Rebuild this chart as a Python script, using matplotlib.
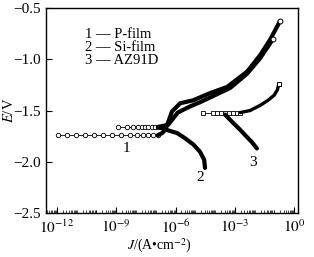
import numpy as np
import matplotlib
matplotlib.use("Agg")
import matplotlib.pyplot as plt
from matplotlib.ticker import LogLocator, NullFormatter

plt.rcParams['font.family'] = ['Liberation Serif', 'DejaVu Serif']
plt.rcParams['mathtext.fontset'] = 'stix'

# ---- data (J in A/cm^2, E in V) ----
legend_labels = ["P-film", "Si-film", "AZ91D"]

# 1: P-film
p_sparse_J = [1.1e-12, 3.2e-12, 9.1e-12, 2.6e-11, 7.4e-11, 2.1e-10, 6.0e-10, 1.7e-9,
              5.0e-9, 1.1e-8, 2.2e-8, 4.1e-8, 7.2e-8, 1.3e-7]
p_sparse_E = [-1.74] * 14
p_anod_J = [1.3e-7, 2.1e-7, 3.0e-7, 4.5e-7, 6.6e-7, 1.7e-6, 7.8e-6, 5.6e-5, 4.1e-4,
            4.2e-3, 1.9e-2, 6.0e-2, 0.19]
p_anod_E = [-1.74, -1.72, -1.69, -1.60, -1.51, -1.43, -1.40, -1.33, -1.27,
            -1.12, -0.96, -0.81, -0.63]

# 2: Si-film
si_sparse_J = [1.2e-9, 3.5e-9, 7.1e-9, 1.3e-8, 2.0e-8, 2.9e-8, 4.1e-8, 6.5e-8, 9.1e-8, 1.3e-7]
si_sparse_E = [-1.66] * 10
si_cath_J = [1.3e-7, 3.7e-7, 1.2e-6, 3.0e-6, 7.8e-6, 1.7e-5, 2.8e-5, 3.1e-5]
si_cath_E = [-1.66, -1.69, -1.72, -1.77, -1.83, -1.90, -1.98, -2.06]
si_anod_J = [1.3e-7, 4.2e-7, 1.3e-6, 5.4e-6, 1.7e-5, 1.0e-4, 5.8e-4, 4.2e-3, 1.9e-2, 8.7e-2]
si_anod_E = [-1.66, -1.64, -1.52, -1.46, -1.42, -1.35, -1.28, -1.14, -0.99, -0.80]

# 3: AZ91D
az_sparse_J = [2.5e-5, 7.9e-5, 1.3e-4, 2.0e-4, 3.2e-4, 5.1e-4, 8.1e-4, 1.3e-3, 1.9e-3]
az_sparse_E = [-1.524] * 9
az_anod_J = [1.9e-3, 5.9e-3, 1.9e-2, 4.8e-2, 9.8e-2, 0.14, 0.17]
az_anod_E = [-1.52, -1.50, -1.45, -1.40, -1.35, -1.30, -1.24]
az_cath_J = [3.2e-4, 7.2e-4, 1.9e-3, 3.7e-3, 7.4e-3, 1.3e-2]
az_cath_E = [-1.54, -1.61, -1.69, -1.75, -1.81, -1.87]

xtick_major = [1e-12, 1e-9, 1e-6, 1e-3, 1e0]
xtick_labels = [r"$10^{-12}$", r"$10^{-9}$", r"$10^{-6}$", r"$10^{-3}$", r"$10^{0}$"]
ytick_vals = [-0.5, -1.0, -1.5, -2.0, -2.5]

# ---- figure ----
fig = plt.figure(figsize=(3.14, 2.57), dpi=100)
ax = fig.add_axes([0.1465, 0.171, 0.803, 0.798])
ax.set_xscale('log')
ax.set_xlim(10**-12.55, 10**0.2)
ax.set_ylim(-2.5, -0.5)

thin = dict(color='black', lw=0.6, markersize=3.2, markerfacecolor='white',
            markeredgecolor='black', markeredgewidth=0.6)
thick = dict(color='black', lw=3.0, solid_capstyle='round')

ax.plot(p_sparse_J, p_sparse_E, marker='o', **thin)
ax.plot(si_sparse_J, si_sparse_E, marker='o', **thin)
ax.plot(az_sparse_J, az_sparse_E, marker='s', **thin)

ax.plot(p_anod_J, p_anod_E, **thick)
ax.plot(si_cath_J, si_cath_E, **thick)
ax.plot(si_anod_J, si_anod_E, **thick)
ax.plot(az_anod_J, az_anod_E, color='black', lw=2.4, solid_capstyle='round')
ax.plot(az_cath_J, az_cath_E, **thick)

# end markers
end_style = dict(ls='none', markersize=3.5, markerfacecolor='white',
                 markeredgecolor='black', markeredgewidth=0.7)
ax.plot([p_anod_J[-1]], [p_anod_E[-1]], marker='o', **end_style)
ax.plot([si_anod_J[-1]], [si_anod_E[-1]], marker='o', **end_style)
ax.plot([az_anod_J[-1]], [az_anod_E[-1]], marker='s', **end_style)

# curve labels
ax.text(10**-8.46, -1.87, "1", fontsize=11, ha='center', va='center')
ax.text(10**-4.76, -2.15, "2", fontsize=11, ha='center', va='center')
ax.text(10**-2.08, -2.01, "3", fontsize=11, ha='center', va='center')

# legend as text
for i, lab in enumerate(legend_labels):
    y = -0.755 - i * 0.13
    ax.text(10**-10.6, y, f"{i+1} — {lab}", fontsize=10.5, ha='left', va='center')

# ticks
ax.set_xticks(xtick_major, labels=xtick_labels)
ax.xaxis.set_minor_locator(LogLocator(base=10, subs=np.arange(1, 10), numticks=200))
ax.xaxis.set_minor_formatter(NullFormatter())
ax.set_yticks(ytick_vals, labels=[f"\u2212{abs(v):.1f}" for v in ytick_vals])
ax.tick_params(axis='both', which='major', direction='in', length=4, width=0.8,
               labelsize=11, top=False, right=False)
ax.tick_params(axis='x', which='minor', direction='in', length=2, width=0.5)
ax.tick_params(axis='x', which='major', pad=4)

for s in ax.spines.values():
    s.set_linewidth(1.0)

ax.set_xlabel(r"$J$/(A•cm$^{-2}$)", fontsize=10)
ax.xaxis.set_label_coords(0.45, -0.115)
ax.set_ylabel(r"$E$/V", fontsize=10.5)
ax.yaxis.set_label_coords(-0.12, 0.5)

fig.savefig("out.png", dpi=100)
